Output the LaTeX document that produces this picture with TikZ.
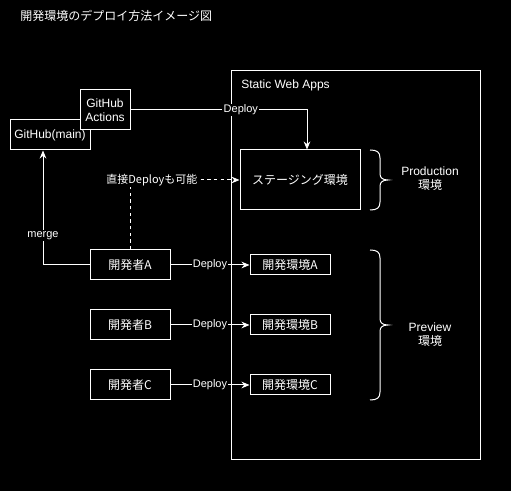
\documentclass[tikz,border=0pt]{standalone}
\usepackage{fontspec}
\setmainfont{Liberation Sans}
\newfontfamily\jp{Noto Sans CJK JP}
\usetikzlibrary{arrows.meta,positioning}

\begin{document}
\begin{tikzpicture}[x=0.75pt,y=-0.75pt,
	every node/.style={text=white, font=\fontsize{9}{10.5}\selectfont},
	box/.style={draw=white, line width=0.75pt, fill=black, inner sep=0pt},
	lbl/.style={fill=black, inner sep=1pt, font=\fontsize{8.25}{10}\selectfont},
	arr/.style={draw=white, line width=0.75pt, -{Stealth[length=6pt,width=5pt]}},
	brc/.style={draw=white, line width=0.75pt}]
		\path[fill=black, use as bounding box] (0,0) rectangle (511,491);
		\node[anchor=west, inner sep=0pt] (title) at (20,16) {\jp 開発環境のデプロイ方法イメージ図};
		\node[box, minimum width=186.75pt, minimum height=291.75pt] (swa) at (355.5,265.5) {};
		\node[anchor=west, inner sep=0pt] (swalbl) at (241,85) {Static Web Apps};
		\node[box, minimum width=60pt, minimum height=22.5pt] (ghm) at (50,135) {GitHub(main)};
		\node[box, minimum width=37.5pt, minimum height=30pt, align=center] (gha) at (105,110) {GitHub\\Actions};
		\node[box, minimum width=90pt, minimum height=45pt] (stg) at (300,180) {\jp ステージング環境};
		\node[box, minimum width=60pt, minimum height=22.5pt] (devA) at (130,265) {\jp 開発者A};
		\node[box, minimum width=60pt, minimum height=22.5pt] (devB) at (130,325) {\jp 開発者B};
		\node[box, minimum width=60pt, minimum height=22.5pt] (devC) at (130,385) {\jp 開発者C};
		\node[box, minimum width=60pt, minimum height=15pt] (envA) at (290,265) {\jp 開発環境A};
		\node[box, minimum width=60pt, minimum height=15pt] (envB) at (290,325) {\jp 開発環境B};
		\node[box, minimum width=60pt, minimum height=15pt] (envC) at (290,385) {\jp 開発環境C};
		\node[align=center] (prod) at (430,179) {Production\\{\jp 環境}};
		\node[align=center] (prev) at (430,335) {Preview\\{\jp 環境}};
		\coordinate (dtop) at (307,110);
		\coordinate (mrg) at (43,265);
		\draw[arr] (gha.east) -- node[lbl, pos=0.625] {Deploy} (dtop) -- (dtop |- stg.north);
		\draw[arr, dash pattern=on 2.5pt off 2.5pt] (devA.north) |- node[lbl, pos=0.6] {\jp 直接Deployも可能} (stg.west);
		\draw[arr] (devA.west) -- (mrg) -- node[lbl, pos=0.26] {merge} (mrg |- ghm.south);
		\draw[arr] (devA.east) -- node[lbl] {Deploy} (envA.west);
		\draw[arr] (devB.east) -- node[lbl] {Deploy} (envB.west);
		\draw[arr] (devC.east) -- node[lbl] {Deploy} (envC.west);
		\draw[brc] (370,150) .. controls (377,150) and (380,152) .. (380,158) -- (380,174) .. controls (380,178) and (383,180) .. (388,180) .. controls (383,180) and (380,182) .. (380,186) -- (380,202) .. controls (380,208) and (377,210) .. (370,210);
		\draw[brc] (370,250) .. controls (377,250) and (380,252) .. (380,258) -- (380,319) .. controls (380,323) and (383,325) .. (388,325) .. controls (383,325) and (380,327) .. (380,331) -- (380,392) .. controls (380,398) and (377,400) .. (370,400);
	\end{tikzpicture}
\end{document}
